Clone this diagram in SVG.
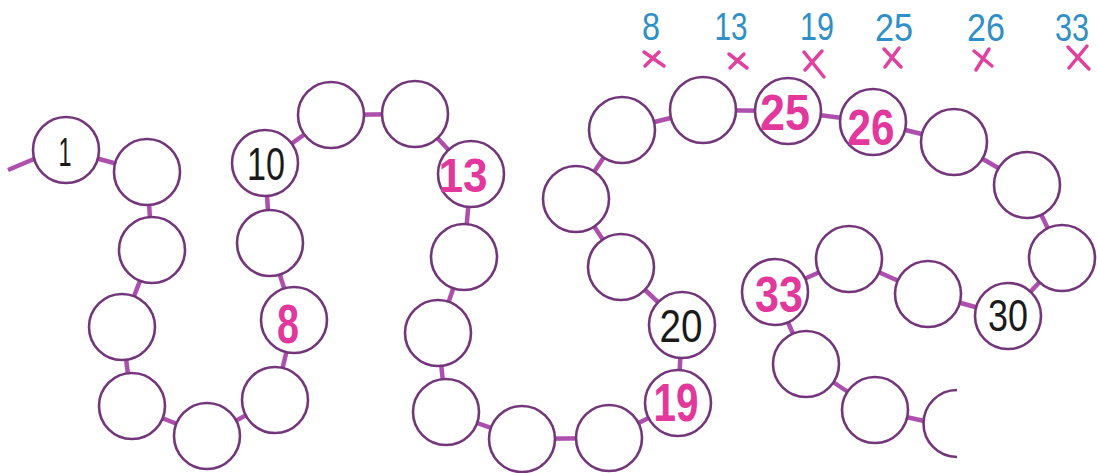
<svg xmlns="http://www.w3.org/2000/svg" width="1097" height="473" viewBox="0 0 1097 473">
<style>
.bg{fill:#ffffff}
.c{fill:#ffffff;stroke:#74367a;stroke-width:2.6}
.arc{fill:none;stroke:#74367a;stroke-width:2.6}
.con{fill:none;stroke:#ad4fad;stroke-width:4.5;stroke-linecap:butt}
.blk{font-family:"Liberation Sans",Arial,sans-serif;fill:#1a1a1a;text-anchor:middle}
.pk{font-family:"Liberation Sans",Arial,sans-serif;font-weight:bold;fill:#e2389c;text-anchor:middle}
.lbl{font-family:"Liberation Sans",Arial,sans-serif;fill:#2f8fc6;text-anchor:middle;font-size:38px}
.x{fill:none;stroke:#e0409e;stroke-width:3.5;stroke-linecap:round}
</style>
<rect class="bg" x="0" y="0" width="1097" height="473"/>
<g id="connectors">
<path class="con" d="M8,170 L34,159
M66,150 L147,172 M147,172 L152,250 M152,250 L122,327 M122,327 L132,406 M132,406 L207,436
M207,436 L275,400 M275,400 L294,320 M294,320 L270,243 M270,243 L265,163 M265,163 L331,115
M331,115 L415,114 M415,114 L471,174 M471,174 L464,257 M464,257 L438,333 M438,333 L446,412
M446,412 L522,439 M522,439 L609,438 M609,438 L678,403 M678,403 L682,325 M682,325 L621,267
M621,267 L576,199 M576,199 L622,130 M622,130 L703,110 M703,110 L788,111 M788,111 L873,122
M873,122 L954,142 M954,142 L1027,185 M1027,185 L1062,258 M1062,258 L1008,316 M1008,316 L928,294
M928,294 L849,259 M849,259 L775,292 M775,292 L806,364 M806,364 L875,410 M875,410 L924,421"/>
</g>
<g id="n1"><circle class="c" cx="66" cy="150" r="33"/><text class="blk" x="65" y="166" font-size="40" textLength="13" lengthAdjust="spacingAndGlyphs">1</text></g>
<g id="n2"><circle class="c" cx="147" cy="172" r="33"/></g>
<g id="n3"><circle class="c" cx="152" cy="250" r="33"/></g>
<g id="n4"><circle class="c" cx="122" cy="327" r="33"/></g>
<g id="n5"><circle class="c" cx="132" cy="406" r="33"/></g>
<g id="n6"><circle class="c" cx="207" cy="436" r="33"/></g>
<g id="n7"><circle class="c" cx="275" cy="400" r="33"/></g>
<g id="n8"><circle class="c" cx="294" cy="320" r="33"/><text class="pk" x="288" y="343" font-size="56" textLength="22" lengthAdjust="spacingAndGlyphs">8</text></g>
<g id="n9"><circle class="c" cx="270" cy="243" r="33"/></g>
<g id="n10"><circle class="c" cx="265" cy="163" r="33"/><text class="blk" x="266" y="180" font-size="46" textLength="38" lengthAdjust="spacingAndGlyphs">10</text></g>
<g id="n11"><circle class="c" cx="331" cy="115" r="33"/></g>
<g id="n12"><circle class="c" cx="415" cy="114" r="33"/></g>
<g id="n13"><circle class="c" cx="471" cy="174" r="33"/><text class="pk" x="463" y="192" font-size="48" textLength="49" lengthAdjust="spacingAndGlyphs">13</text></g>
<g id="n14"><circle class="c" cx="464" cy="257" r="33"/></g>
<g id="n15"><circle class="c" cx="438" cy="333" r="33"/></g>
<g id="n16"><circle class="c" cx="446" cy="412" r="33"/></g>
<g id="n17"><circle class="c" cx="522" cy="439" r="33"/></g>
<g id="n18"><circle class="c" cx="609" cy="438" r="33"/></g>
<g id="n19"><circle class="c" cx="678" cy="403" r="33"/><text class="pk" x="676" y="421" font-size="54" textLength="45" lengthAdjust="spacingAndGlyphs">19</text></g>
<g id="n20"><circle class="c" cx="682" cy="325" r="33"/><text class="blk" x="681" y="342" font-size="47" textLength="43" lengthAdjust="spacingAndGlyphs">20</text></g>
<g id="n21"><circle class="c" cx="621" cy="267" r="33"/></g>
<g id="n22"><circle class="c" cx="576" cy="199" r="33"/></g>
<g id="n23"><circle class="c" cx="622" cy="130" r="33"/></g>
<g id="n24"><circle class="c" cx="703" cy="110" r="33"/></g>
<g id="n25"><circle class="c" cx="788" cy="111" r="33"/><text class="pk" x="785" y="130" font-size="50" textLength="50" lengthAdjust="spacingAndGlyphs">25</text></g>
<g id="n26"><circle class="c" cx="873" cy="122" r="33"/><text class="pk" x="871" y="145" font-size="50" textLength="47" lengthAdjust="spacingAndGlyphs">26</text></g>
<g id="n27"><circle class="c" cx="954" cy="142" r="33"/></g>
<g id="n28"><circle class="c" cx="1027" cy="185" r="33"/></g>
<g id="n29"><circle class="c" cx="1062" cy="258" r="33"/></g>
<g id="n30"><circle class="c" cx="1008" cy="316" r="33"/><text class="blk" x="1008" y="331" font-size="45" textLength="40" lengthAdjust="spacingAndGlyphs">30</text></g>
<g id="n31"><circle class="c" cx="928" cy="294" r="33"/></g>
<g id="n32"><circle class="c" cx="849" cy="259" r="33"/></g>
<g id="n33"><circle class="c" cx="775" cy="292" r="33"/><text class="pk" x="779" y="312" font-size="50" textLength="48" lengthAdjust="spacingAndGlyphs">33</text></g>
<g id="n34"><circle class="c" cx="806" cy="364" r="33"/></g>
<g id="n35"><circle class="c" cx="875" cy="410" r="33"/></g>
<g id="n36"><path class="arc" d="M957,390 A33.5,33.5 0 0 0 957,457"/></g>
<g id="labels">
<text class="lbl" x="651" y="40" textLength="18" lengthAdjust="spacingAndGlyphs">8</text>
<text class="lbl" x="731" y="40" textLength="33" lengthAdjust="spacingAndGlyphs">13</text>
<text class="lbl" x="817" y="40" textLength="34" lengthAdjust="spacingAndGlyphs">19</text>
<text class="lbl" x="894" y="41" textLength="38" lengthAdjust="spacingAndGlyphs">25</text>
<text class="lbl" x="986" y="41" textLength="38" lengthAdjust="spacingAndGlyphs">26</text>
<text class="lbl" x="1072" y="41" textLength="34" lengthAdjust="spacingAndGlyphs">33</text>
</g>
<g id="marks">
<path class="x" d="M644,52 L664,66 M645,66 L659,52"/>
<path class="x" d="M729,54 L747,68 M730,68 L744,54"/>
<path class="x" d="M804,52 L824,77 M805,70 L822,51"/>
<path class="x" d="M884,49 L901,67 M885,67 L899,48"/>
<path class="x" d="M974,51 L992,66 M976,70 L989,49"/>
<path class="x" d="M1068,47 L1089,69 M1069,68 L1087,46"/>
</g>
</svg>
